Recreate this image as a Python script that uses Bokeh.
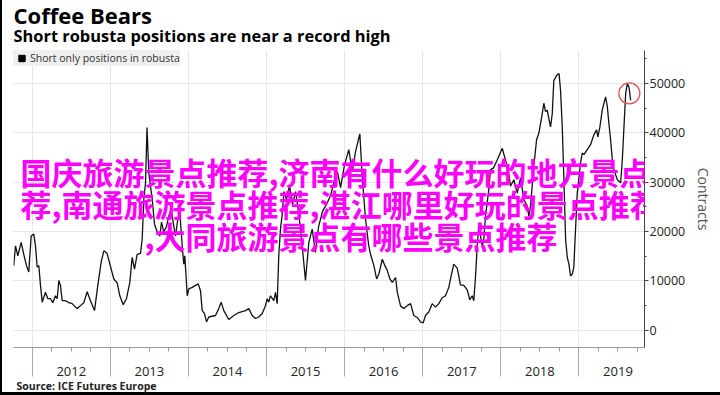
from bokeh.plotting import figure
from bokeh.models import (ColumnDataSource, Range1d, LinearAxis, FixedTicker, Grid,
                          Legend, LegendItem, Title, Label)
from bokeh.embed import file_html
from bokeh.resources import INLINE

# ---------------- data ----------------
dates = [2011.764, 2011.786, 2011.816, 2011.859, 2011.892, 2011.927, 2011.956, 2011.987,
         2012.020, 2012.042, 2012.064, 2012.085, 2012.106, 2012.128, 2012.170, 2012.200,
         2012.234, 2012.264, 2012.298, 2012.320, 2012.341, 2012.362, 2012.384, 2012.426,
         2012.469, 2012.512, 2012.554, 2012.576, 2012.618, 2012.661, 2012.704, 2012.746,
         2012.798, 2012.840, 2012.883, 2012.917, 2012.958, 2013.000, 2013.045, 2013.088,
         2013.122, 2013.165, 2013.207, 2013.250, 2013.280, 2013.310, 2013.344, 2013.387,
         2013.408, 2013.429, 2013.451, 2013.470, 2013.493, 2013.537, 2013.566, 2013.601,
         2013.634, 2013.656, 2013.685, 2013.720, 2013.749, 2013.780, 2013.813, 2013.835,
         2013.864, 2013.890, 2013.921, 2013.941, 2013.954, 2013.985, 2014.005, 2014.049,
         2014.091, 2014.126, 2014.155, 2014.177, 2014.206, 2014.232, 2014.261, 2014.347,
         2014.389, 2014.420, 2014.453, 2014.517, 2014.581, 2014.645, 2014.731, 2014.773,
         2014.817, 2014.859, 2014.901, 2014.945, 2014.987, 2015.009, 2015.029, 2015.051,
         2015.093, 2015.115, 2015.137, 2015.157, 2015.179, 2015.201, 2015.224, 2015.256,
         2015.295, 2015.333, 2015.372, 2015.410, 2015.457, 2015.499, 2015.542, 2015.585,
         2015.627, 2015.666, 2015.717, 2015.768, 2015.820, 2015.871, 2015.909, 2015.948,
         2015.999, 2016.054, 2016.098, 2016.140, 2016.195, 2016.226, 2016.268, 2016.307,
         2016.332, 2016.375, 2016.410, 2016.439, 2016.483, 2016.516, 2016.547, 2016.580,
         2016.611, 2016.653, 2016.675, 2016.717, 2016.759, 2016.802, 2016.845, 2016.886,
         2016.930, 2016.972, 2017.006, 2017.036, 2017.078, 2017.122, 2017.164, 2017.206,
         2017.250, 2017.292, 2017.334, 2017.365, 2017.398, 2017.442, 2017.484, 2017.526,
         2017.570, 2017.603, 2017.634, 2017.654, 2017.676, 2017.698, 2017.718, 2017.762,
         2017.782, 2017.804, 2017.846, 2017.868, 2017.907, 2017.954, 2017.984, 2018.018,
         2018.060, 2018.102, 2018.124, 2018.167, 2018.210, 2018.253, 2018.295, 2018.339,
         2018.359, 2018.381, 2018.423, 2018.458, 2018.487, 2018.531, 2018.551, 2018.573,
         2018.595, 2018.615, 2018.637, 2018.659, 2018.679, 2018.714, 2018.746, 2018.765,
         2018.787, 2018.808, 2018.830, 2018.851, 2018.872, 2018.893, 2018.915, 2018.935,
         2018.957, 2018.979, 2019.021, 2019.043, 2019.064, 2019.107, 2019.149, 2019.192,
         2019.226, 2019.243, 2019.269, 2019.299, 2019.320, 2019.342, 2019.364, 2019.384,
         2019.406, 2019.428, 2019.449, 2019.492, 2019.535, 2019.556, 2019.577, 2019.599,
         2019.620, 2019.641, 2019.662]

contracts = [13100, 17100, 15100, 17800, 15400, 13100, 11800, 19100,
             19500, 17100, 12800, 13100, 9100, 5700, 7700, 6400,
             6400, 5600, 7000, 6400, 10100, 9100, 6000, 6000,
             5600, 5400, 4700, 4400, 5000, 5600, 7800, 6000,
             4000, 9100, 13800, 16100, 15600, 13100, 10400, 9600,
             7000, 5200, 6400, 9700, 14800, 12400, 15400, 15600,
             18400, 26500, 29900, 41100, 31900, 26500, 21500, 19900,
             19100, 21900, 19900, 21100, 23100, 24500, 21100, 19100,
             22500, 23800, 17100, 13400, 15100, 7000, 8400, 8700,
             9100, 9400, 8000, 4000, 3400, 1700, 2700, 3000,
             4400, 5700, 4000, 2200, 3000, 3600, 4000, 4400,
             3000, 2400, 2700, 3400, 5000, 6400, 5700, 7000,
             6000, 7700, 5400, 15100, 20500, 23500, 28100, 26500,
             29300, 25500, 28100, 24100, 17100, 10100, 17800, 20500,
             15800, 20900, 24100, 25500, 27300, 30500, 32100, 28900,
             33500, 36600, 32100, 36200, 39800, 31100, 22500, 17400,
             15400, 13100, 10400, 11400, 14400, 13100, 12100, 10400,
             9700, 10700, 7700, 4900, 4400, 5000, 5400, 3000,
             2600, 1700, 1500, 3000, 3700, 5400, 4700, 5400,
             6600, 7000, 8700, 11100, 13400, 12600, 9200, 9100,
             8200, 6200, 7000, 6000, 10800, 17100, 21100, 17100,
             18400, 23100, 28500, 32500, 32900, 34500, 35600, 36900,
             34500, 31900, 29200, 30500, 27800, 30900, 26500, 25200,
             23100, 25200, 33200, 38600, 39900, 43900, 46000, 44300,
             44600, 42900, 41200, 43900, 50600, 51600, 52000, 48600,
             41200, 30500, 18400, 14800, 13400, 11000, 11400, 12800,
             20500, 27800, 33900, 35900, 35600, 36600, 37600, 39600,
             40600, 39200, 41200, 44600, 46000, 47300, 45300, 41900,
             38600, 34500, 32500, 30500, 29900, 34500, 41200, 48000,
             50000, 49300, 46600]

highlight_date = [2019.646]
highlight_value = [48000]

year_bounds = [2012, 2013, 2014, 2015, 2016, 2017, 2018, 2019, 2020]
year_mid = [2012.5, 2013.5, 2014.5, 2015.5, 2016.5, 2017.5, 2018.5, 2019.5]
year_labels = ["2012", "2013", "2014", "2015", "2016", "2017", "2018", "2019"]
quarter_ticks = [2011.75, 2012.25, 2012.5, 2012.75, 2013.25, 2013.5, 2013.75,
                 2014.25, 2014.5, 2014.75, 2015.25, 2015.5, 2015.75, 2016.25, 2016.5,
                 2016.75, 2017.25, 2017.5, 2017.75, 2018.25, 2018.5, 2018.75,
                 2019.25, 2019.5, 2019.75]
y_ticks = [0, 10000, 20000, 30000, 40000, 50000]
y_minor = [5000, 15000, 25000, 35000, 45000, 55000]

overlay_lines = ["国庆旅游景点推荐,济南有什么好玩的地方景点推",
                 "荐,南通旅游景点推荐,湛江哪里好玩的景点推荐",
                 ",大同旅游景点有哪些景点推荐"]

FONT = "Open Sans"
NAN = float("nan")

p = figure(width=720, height=395, output_backend="svg", toolbar_location=None,
           title=None, x_axis_location=None, y_axis_location=None,
           x_range=Range1d(2011.7606, 2019.840), y_range=Range1d(-3480, 56680),
           min_border_left=13, min_border_right=76, min_border_top=50, min_border_bottom=46)
p.outline_line_color = None
p.background_fill_color = "white"
p.border_fill_color = None
# thin black edge on the left and bottom of the picture (shows through the transparent border)
p.styles = {"background": "linear-gradient(to right, #000 0px, #000 2px, transparent 2px), "
                          "linear-gradient(to top, #000 0px, #000 3px, #fff 3px)"}

# grids
p.add_layout(Grid(dimension=0, ticker=FixedTicker(ticks=year_bounds),
                  grid_line_color="#e6e6e6", grid_line_width=1))
p.add_layout(Grid(dimension=1, ticker=FixedTicker(ticks=y_ticks),
                  grid_line_color="#e6e6e6", grid_line_width=1))

# right axis
yax = LinearAxis(ticker=FixedTicker(ticks=y_ticks, minor_ticks=y_minor),
                 axis_label="Contracts", axis_label_text_font=FONT,
                 axis_label_text_font_size="14px", axis_label_text_font_style="normal",
                 axis_label_text_color="#555555", axis_label_standoff=6,
                 major_label_text_font=FONT, major_label_text_font_size="12.5px",
                 major_label_text_color="#222222", major_label_standoff=1,
                 major_tick_out=4, major_tick_in=0, minor_tick_out=2, minor_tick_in=0,
                 axis_line_color="#444444", major_tick_line_color="#444444",
                 minor_tick_line_color="#444444")
p.add_layout(yax, "right")

# bottom axis: line, long ticks at year boundaries, quarter ticks
xax_bound = LinearAxis(ticker=FixedTicker(ticks=year_bounds, minor_ticks=quarter_ticks),
                       major_label_overrides={b: "" for b in year_bounds},
                       major_label_text_font_size="0px", major_label_standoff=0,
                       major_tick_out=29, major_tick_in=0, minor_tick_out=4, minor_tick_in=0,
                       axis_line_color="#999999", major_tick_line_color="#aaaaaa",
                       minor_tick_line_color="#999999")
p.add_layout(xax_bound, "below")

# year labels centred within each year
xax_lab = LinearAxis(ticker=FixedTicker(ticks=year_mid, minor_ticks=[]),
                     major_label_overrides={m: l for m, l in zip(year_mid, year_labels)},
                     major_label_text_font=FONT, major_label_text_font_size="13px",
                     major_label_text_color="#222222", major_label_standoff=-10,
                     major_tick_out=0, major_tick_in=0, major_tick_line_color=None,
                     minor_tick_line_color=None, axis_line_color=None)
p.add_layout(xax_lab, "below")

p.add_layout(Title(text="Source: ICE Futures Europe", text_font=FONT,
                   text_font_size="10.5px", text_font_style="bold", text_color="#222222",
                   align="left", vertical_align="top", offset=3, standoff=1), "below")

# titles (subtitle nearest the frame, main title above it)
p.add_layout(Title(text="Short robusta positions are near a record high", text_font=FONT,
                   text_font_size="16.4px", text_font_style="bold", text_color="black",
                   align="left", offset=0, standoff=7.6), "above")
p.add_layout(Title(text="Coffee Bears", text_font=FONT, text_font_size="22px",
                   text_font_style="bold", text_color="black", align="left",
                   offset=0, standoff=-25.7), "above")

# series
src = ColumnDataSource(data=dict(date=dates, value=contracts))
p.line("date", "value", source=src, line_color="#111111", line_width=1.3)

hl = ColumnDataSource(data=dict(date=highlight_date, value=highlight_value))
p.scatter("date", "value", source=hl, marker="circle", size=21, fill_color=None,
          line_color="#e05555", line_width=1.3)

# legend swatch (a renderer with no visible point, used only for the legend)
sw = ColumnDataSource(data=dict(x=[NAN], y=[NAN]))
sq = p.scatter("x", "y", source=sw, marker="square", size=7, color="black")
legend = Legend(items=[LegendItem(label="Short only positions in robusta", renderers=[sq])],
                location="top_left", margin=0, padding=3, spacing=0,
                glyph_width=17, glyph_height=16, label_height=16, label_standoff=-4,
                label_text_font=FONT, label_text_font_size="10.5px",
                label_text_color="#333333", background_fill_color="#efefef",
                background_fill_alpha=1, border_line_color=None)
p.add_layout(legend)

# magenta overlay text
overlay_x = [2011.850, 2011.850, 2013.438]
overlay_y = [32250, 25700, 19250]
for t, xx, yy in zip(overlay_lines, overlay_x, overlay_y):
    p.add_layout(Label(x=xx, y=yy, text=t, text_font="Noto Sans CJK SC",
                       text_font_size="31px", text_font_style="bold", text_color="#ff00ff",
                       text_baseline="middle", text_align="left"))

open("out.html", "w").write(file_html(p, INLINE))
